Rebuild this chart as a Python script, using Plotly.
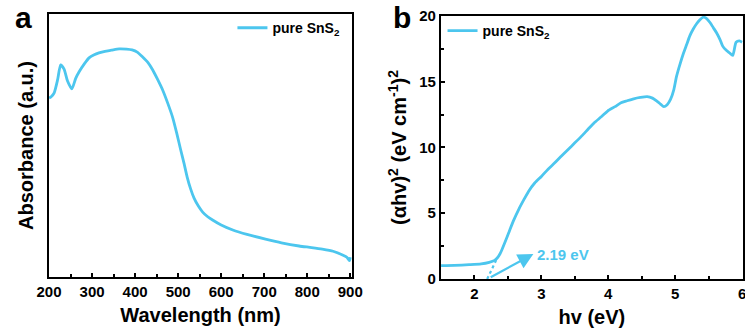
import plotly.graph_objects as go

CYAN = "#4CC6EE"

# Panel a: UV-vis absorbance
wavelength = [200, 205, 212, 220, 227, 235, 243, 253, 262, 270, 282, 293, 305, 316, 330, 345, 363, 380, 393, 405, 417, 430, 441, 452, 464, 476, 487, 497, 506, 514, 521, 529, 537, 547, 557, 568, 580, 600, 627, 660, 703, 740, 781, 810, 835, 860, 882, 892, 898, 900]
absorbance = [0.68, 0.685, 0.70, 0.75, 0.806, 0.79, 0.745, 0.715, 0.755, 0.78, 0.81, 0.833, 0.845, 0.852, 0.858, 0.862, 0.867, 0.866, 0.863, 0.855, 0.837, 0.815, 0.787, 0.752, 0.711, 0.66, 0.608, 0.545, 0.483, 0.43, 0.38, 0.335, 0.30, 0.27, 0.247, 0.23, 0.217, 0.198, 0.179, 0.162, 0.144, 0.130, 0.118, 0.112, 0.106, 0.098, 0.084, 0.075, 0.062, 0.075]

# Panel b: Tauc plot
hv = [1.5, 1.7, 1.92, 2.1, 2.22, 2.3, 2.34, 2.38, 2.41, 2.46, 2.51, 2.58, 2.66, 2.74, 2.81, 2.9, 3.0, 3.1, 3.2, 3.3, 3.4, 3.5, 3.6, 3.7, 3.79, 3.9, 3.99, 4.1, 4.19, 4.28, 4.38, 4.48, 4.58, 4.66, 4.73, 4.78, 4.83, 4.88, 4.93, 4.98, 5.02, 5.07, 5.12, 5.17, 5.22, 5.27, 5.32, 5.37, 5.42, 5.47, 5.52, 5.57, 5.62, 5.67, 5.71, 5.76, 5.81, 5.86, 5.91, 5.96, 6.0]
tauc = [1.02, 1.04, 1.09, 1.15, 1.27, 1.42, 1.6, 1.9, 2.23, 2.85, 3.5, 4.4, 5.28, 6.05, 6.68, 7.3, 7.8, 8.35, 8.83, 9.35, 9.85, 10.35, 10.86, 11.4, 11.88, 12.35, 12.77, 13.1, 13.4, 13.55, 13.7, 13.8, 13.86, 13.75, 13.5, 13.3, 13.1, 13.25, 13.65, 14.4, 15.4, 16.3, 17.1, 17.8, 18.5, 19.0, 19.4, 19.7, 19.9, 19.8, 19.5, 19.1, 18.7, 18.2, 17.7, 17.4, 17.2, 17.0, 18.0, 18.1, 18.0]

tangent_x = [2.19, 2.33]
tangent_y = [0.0, 1.5]
gap_label = "2.19 eV"

fig = go.Figure()
fig.add_trace(go.Scatter(x=wavelength, y=absorbance, mode="lines",
                         line=dict(color=CYAN, width=2.8, shape="spline", smoothing=0.6),
                         name="pure SnS<sub>2</sub>", xaxis="x", yaxis="y", legend="legend"))
fig.add_trace(go.Scatter(x=hv, y=tauc, mode="lines",
                         line=dict(color=CYAN, width=2.8, shape="spline", smoothing=0.6),
                         name="pure SnS<sub>2</sub>", xaxis="x2", yaxis="y2", legend="legend2"))
fig.add_trace(go.Scatter(x=tangent_x, y=tangent_y, mode="lines",
                         line=dict(color=CYAN, width=2.2, dash="dot"),
                         showlegend=False, xaxis="x2", yaxis="y2"))

tickfont = dict(family="Arial", size=15, color="black", weight="bold")
titlefont = dict(family="Arial", size=20, color="black", weight="bold")
legfont = dict(family="Arial", size=14, color="black", weight="bold")
common = dict(showline=True, mirror=True, linecolor="black", linewidth=2.2,
              ticks="inside", ticklen=4, tickwidth=2, tickcolor="black",
              showgrid=False, zeroline=False, tickfont=tickfont, automargin=False,
              ticklabeloverflow="allow")

fig.update_layout(
    width=745, height=331,
    margin=dict(l=0, r=0, t=0, b=0),
    plot_bgcolor="white", paper_bgcolor="white",
    xaxis=dict(domain=[0.0658, 0.4725], range=[200, 904], tickvals=[200, 300, 400, 500, 600, 700, 800, 900],
               minor=dict(ticks="inside", ticklen=3, tickwidth=2, tickcolor="black", dtick=50),
               title=dict(text="Wavelength (nm)", font=titlefont, standoff=9), anchor="y", **common),
    yaxis=dict(domain=[0.163, 0.958], range=[0, 1], showticklabels=False, ticks="",
               showline=True, mirror=True, linecolor="black", linewidth=2.2, showgrid=False, zeroline=False,
               automargin=False,
               title=dict(text="Absorbance (a.u.)", font=titlefont, standoff=8), anchor="x"),
    xaxis2=dict(domain=[0.592, 0.997], range=[1.5, 6.01], tickvals=[2, 3, 4, 5, 6],
                minor=dict(ticks="inside", ticklen=3, tickwidth=2, tickcolor="black", dtick=0.5),
                title=dict(text="hv (eV)", font=titlefont, standoff=9), anchor="y2", **common),
    yaxis2=dict(domain=[0.157, 0.952], range=[0, 20], tickvals=[0, 5, 10, 15, 20],
                minor=dict(ticks="inside", ticklen=3, tickwidth=2, tickcolor="black", dtick=2.5),
                title=dict(text="(αhv)<sup>2</sup> (eV cm<sup>-1</sup>)<sup>2</sup>", font=titlefont, standoff=7),
                anchor="x2", **common),
    legend=dict(x=0.312, y=0.915, xanchor="left", yanchor="middle", bgcolor="rgba(0,0,0,0)", font=legfont),
    legend2=dict(x=0.594, y=0.906, xanchor="left", yanchor="middle", bgcolor="rgba(0,0,0,0)", font=legfont),
    showlegend=True,
)

fig.add_annotation(x=2.88, y=1.9, ax=2.22, ay=0.08, xref="x2", yref="y2", axref="x2", ayref="y2",
                   text="", showarrow=True, arrowhead=2, arrowsize=1.4, arrowwidth=2.2, arrowcolor=CYAN)
fig.add_annotation(x=2.9, y=1.9, xref="x2", yref="y2", text=gap_label, showarrow=False,
                   xanchor="left", yanchor="middle",
                   font=dict(family="Arial", size=15, color=CYAN, weight="bold"))
fig.add_annotation(x=0.0175, y=0.946, xref="paper", yref="paper", text="a", showarrow=False,
                   xanchor="left", yanchor="middle", font=dict(family="Arial", size=30, color="black", weight="bold"))
fig.add_annotation(x=0.525, y=0.946, xref="paper", yref="paper", text="b", showarrow=False,
                   xanchor="left", yanchor="middle", font=dict(family="Arial", size=30, color="black", weight="bold"))

fig.write_html("out.html")
